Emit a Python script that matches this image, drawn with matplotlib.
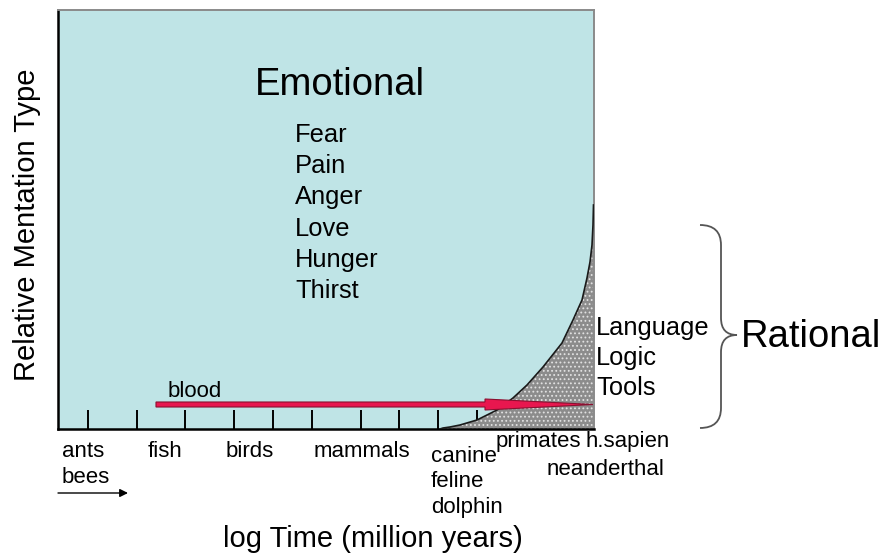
import matplotlib
matplotlib.use("Agg")
import matplotlib.pyplot as plt
from matplotlib.path import Path
from matplotlib.patches import PathPatch
import numpy as np

plt.rcParams['font.family'] = ['Liberation Sans', 'DejaVu Sans']
plt.rcParams['hatch.linewidth'] = 0.8

# plot works in pixel-like units: x to the right, y downward (0 = top of image)
x_lim = (58, 594)
y_lim = (429, 10)

tick_x = [88, 137, 185, 234, 273, 312, 361, 399, 438, 477, 526, 565]

# boundary between emotional and rational mentation
curve_x = [440, 443, 450, 460, 477, 497, 513, 527, 543, 562, 573, 582, 587, 590, 592, 593, 593.5]
curve_y = [429, 428, 427, 425, 420, 410, 398, 385, 367, 343, 320, 300, 278, 262, 245, 225, 205]

emotions = ["Fear", "Pain", "Anger", "Love", "Hunger", "Thirst"]
rational = ["Language", "Logic", "Tools"]

# species labels below the axis: (text, left x, baseline y)
species = ["ants", "bees", "fish", "birds", "mammals", "canine", "feline", "dolphin",
           "primates", "h.sapien", "neanderthal"]
species_x = [62, 62, 148, 226, 314, 431, 431, 431, 496, 585, 547]
species_y = [457, 483, 457, 457, 457, 462, 487, 513, 447, 447, 475]

# blood arrow
blood_x = [156, 485, 593]
blood_y = 404.5

fig = plt.figure(figsize=(8.85, 5.56), dpi=100)
W, H = 885, 556
ax = fig.add_axes([x_lim[0] / W, (H - y_lim[0]) / H,
                   (x_lim[1] - x_lim[0]) / W, (y_lim[0] - y_lim[1]) / H])
ax.set_xlim(*x_lim)
ax.set_ylim(*y_lim)
ax.set_facecolor('#bfe4e6')

for s in ['left', 'bottom']:
    ax.spines[s].set_color('black')
    ax.spines[s].set_linewidth(1.8)
for s in ['top', 'right']:
    ax.spines[s].set_color('#8a8a8a')
    ax.spines[s].set_linewidth(1.4)

ax.set_yticks([])
ax.set_xticks(tick_x)
ax.set_xticklabels([])
ax.tick_params(axis='x', direction='in', length=13.7, width=1.4, color='black')

# rational region (stippled)
ax.fill_betweenx(curve_y, curve_x, x_lim[1], facecolor='#8c8c8c', edgecolor='#e2e2e2',
                 hatch='....', linewidth=0, zorder=2)
ax.plot(curve_x, curve_y, color='#1a1a1a', lw=1.2, zorder=3)

# blood arrow
bx = [blood_x[0], blood_x[1], blood_x[1], blood_x[2], blood_x[1], blood_x[1], blood_x[0]]
by = [blood_y - 2.5, blood_y - 2.5, blood_y - 5.5, blood_y, blood_y + 5.5, blood_y + 2.5, blood_y + 2.5]
ax.fill(bx, by, facecolor='#e8174f', edgecolor='#8a1030', lw=0.8, zorder=4)
ax.text(168, 397, "blood", fontsize=16, ha='left', va='baseline', zorder=5)

ax.text(340, 95, "Emotional", fontsize=27.5, ha='center', va='baseline')
for i, e in enumerate(emotions):
    ax.text(295, 142 + 31.2 * i, e, fontsize=18.4, ha='left', va='baseline')

for i, r in enumerate(rational):
    ax.text(596, 335 + 30 * i, r, fontsize=18.3, ha='left', va='baseline', clip_on=False)

ax.text(741, 347, "Rational", fontsize=27.5, ha='left', va='baseline', clip_on=False)

for name, lx, ly in zip(species, species_x, species_y):
    ax.text(lx, ly, name, fontsize=16, ha='left', va='baseline', clip_on=False)

# curly brace
verts = [(700, 225), (721, 225), (721, 245), (721, 318), (721, 335), (737, 335),
         (721, 335), (721, 352), (721, 408), (721, 428), (700, 428)]
codes = [Path.MOVETO, Path.CURVE3, Path.CURVE3, Path.LINETO, Path.CURVE3, Path.CURVE3,
         Path.CURVE3, Path.CURVE3, Path.LINETO, Path.CURVE3, Path.CURVE3]
ax.add_patch(PathPatch(Path(verts, codes), facecolor='none', edgecolor='#555555',
                       lw=1.3, clip_on=False))

# small time arrow
ax.annotate("", xy=(128, 493), xytext=(58, 493), annotation_clip=False,
            arrowprops=dict(arrowstyle='-|>', color='black', lw=1.0, mutation_scale=12,
                            shrinkA=0, shrinkB=0))

ax.text(373, 547, "log Time (million years)", fontsize=21, ha='center', va='baseline',
        clip_on=False)
ax.text(27, 225, "Relative Mentation Type", fontsize=21, ha='center', va='center',
        rotation=90, clip_on=False)

fig.savefig("out.png", dpi=100)
